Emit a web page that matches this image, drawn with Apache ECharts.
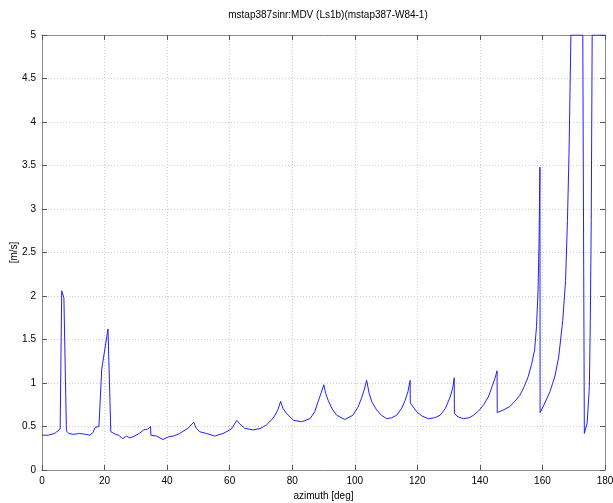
<!DOCTYPE html>
<html><head><meta charset="utf-8">
<script src="https://cdn.jsdelivr.net/npm/echarts@6/dist/echarts.min.js"></script>
<style>html,body{margin:0;padding:0;background:#fff}#c{width:613px;height:503px}</style>
</head><body><div id="c"></div>
<script>
const titleText = 'mstap387sinr:MDV (Ls1b)(mstap387-W84-1)';
const xName = 'azimuth [deg]';
const yName = '[m/s]';
const azimuth = [0,2,4,5.8,6.3,7.0,7.8,8.5,10,12,14,15.3,16.3,17.0,18.2,19.1,21.1,22.0,23.5,24.5,25.8,27.0,28.0,29,31.1,32.5,33.8,34.7,34.8,36.6,38.7,40.3,42,44,46.7,48.5,49.3,50.4,52.6,55.2,57.9,60.5,62.3,63.2,64.8,67.5,70,71.8,73.5,74.5,75.5,76.3,77.0,78.2,80.4,83,85.7,87.2,88.3,89.3,90.1,90.7,91.5,92.8,94.2,96.8,99.4,101,102.1,103,103.8,104.6,105.5,107,108.5,110.2,111.8,113.4,115,116.1,117,117.7,117.75,119.8,121.5,123.5,125.5,127.3,129,130.5,131.3,131.8,131.85,133,134.8,136.5,138,139.6,141.2,142.7,143.9,144.8,145.5,145.55,147.5,149.6,151.2,152.8,154.2,155.4,156.5,157.5,158.1,158.6,158.9,159.2,159.25,160.5,162.4,164,165.2,166.5,167.4,168.0,168.5,169.1,172.9,173.4,174.3,175.0,175.3,175.6,175.9,180];
const mdv = [0.40,0.40,0.42,0.47,2.06,1.98,0.45,0.42,0.41,0.42,0.41,0.40,0.43,0.49,0.50,1.16,1.62,0.44,0.41,0.40,0.36,0.39,0.37,0.38,0.42,0.46,0.47,0.50,0.40,0.39,0.35,0.38,0.39,0.42,0.48,0.55,0.48,0.44,0.42,0.39,0.42,0.47,0.57,0.53,0.48,0.46,0.48,0.52,0.58,0.63,0.70,0.79,0.71,0.65,0.57,0.555,0.59,0.67,0.79,0.89,0.98,0.88,0.80,0.70,0.63,0.58,0.63,0.72,0.82,0.92,1.03,0.88,0.78,0.69,0.63,0.59,0.60,0.63,0.71,0.80,0.90,1.03,0.77,0.67,0.62,0.59,0.60,0.63,0.71,0.84,0.94,1.06,0.65,0.61,0.59,0.60,0.63,0.68,0.75,0.84,0.96,1.05,1.14,0.66,0.69,0.73,0.79,0.86,0.96,1.07,1.21,1.38,1.65,2.07,2.60,3.48,0.66,0.75,0.90,1.08,1.30,1.72,2.18,2.87,3.64,5.0,5.0,0.42,0.54,0.96,1.72,2.87,5.0,5.0];

const font = 'Liberation Sans, Arial, sans-serif';
const axisCol = '#8c8c8c';
const chart = echarts.init(document.getElementById('c'), null, {renderer: 'canvas'});
const baseX = {type:'value', min:0, max:180, interval:20};
const baseY = {type:'value', min:0, max:5, interval:0.5};
chart.setOption({
  animation:false,
  title:{text:titleText, left:323, textAlign:'center', top:5, textStyle:{fontFamily:font, fontSize:10, fontWeight:'normal', color:'#000'}},
  grid:{left:42, right:8, top:35, bottom:33, containLabel:false, outerBoundsMode:'none'},
  xAxis:[
    Object.assign({}, baseX, {position:'bottom', name:xName, nameLocation:'middle', nameGap:21, nameMoveOverlap:false,
      nameTextStyle:{fontFamily:font, fontSize:10, color:'#000'},
      axisLine:{show:true, onZero:false, lineStyle:{color:axisCol, width:1}},
      axisTick:{show:true, inside:true, length:5, lineStyle:{color:'#555'}},
      axisLabel:{fontFamily:font, fontSize:10, color:'#000', margin:6},
      splitLine:{show:true, lineStyle:{type:[1,2], color:'#cfcfcf', width:1}}}),
    Object.assign({}, baseX, {position:'top',
      axisLine:{show:true, onZero:false, lineStyle:{color:axisCol, width:1}},
      axisTick:{show:true, inside:true, length:5, lineStyle:{color:'#555'}},
      axisLabel:{show:false}, splitLine:{show:false}})
  ],
  yAxis:[
    Object.assign({}, baseY, {position:'left', name:yName, nameLocation:'middle', nameGap:23, nameRotate:90, nameMoveOverlap:false,
      nameTextStyle:{fontFamily:font, fontSize:10, color:'#000'},
      axisLine:{show:true, onZero:false, lineStyle:{color:axisCol, width:1}},
      axisTick:{show:true, inside:true, length:5, lineStyle:{color:'#555'}},
      axisLabel:{fontFamily:font, fontSize:10, color:'#000', margin:6},
      splitLine:{show:true, lineStyle:{type:[1,2], color:'#cfcfcf', width:1}}}),
    Object.assign({}, baseY, {position:'right',
      axisLine:{show:true, onZero:false, lineStyle:{color:axisCol, width:1}},
      axisTick:{show:true, inside:true, length:5, lineStyle:{color:'#555'}},
      axisLabel:{show:false}, splitLine:{show:false}})
  ],
  series:[{
    type:'line', xAxisIndex:0, yAxisIndex:0,
    data: azimuth.map((a,i)=>[a, mdv[i]]),
    showSymbol:false, symbol:'none',
    lineStyle:{color:'#2020ff', width:1},
    clip:true
  }]
});
</script></body></html>
